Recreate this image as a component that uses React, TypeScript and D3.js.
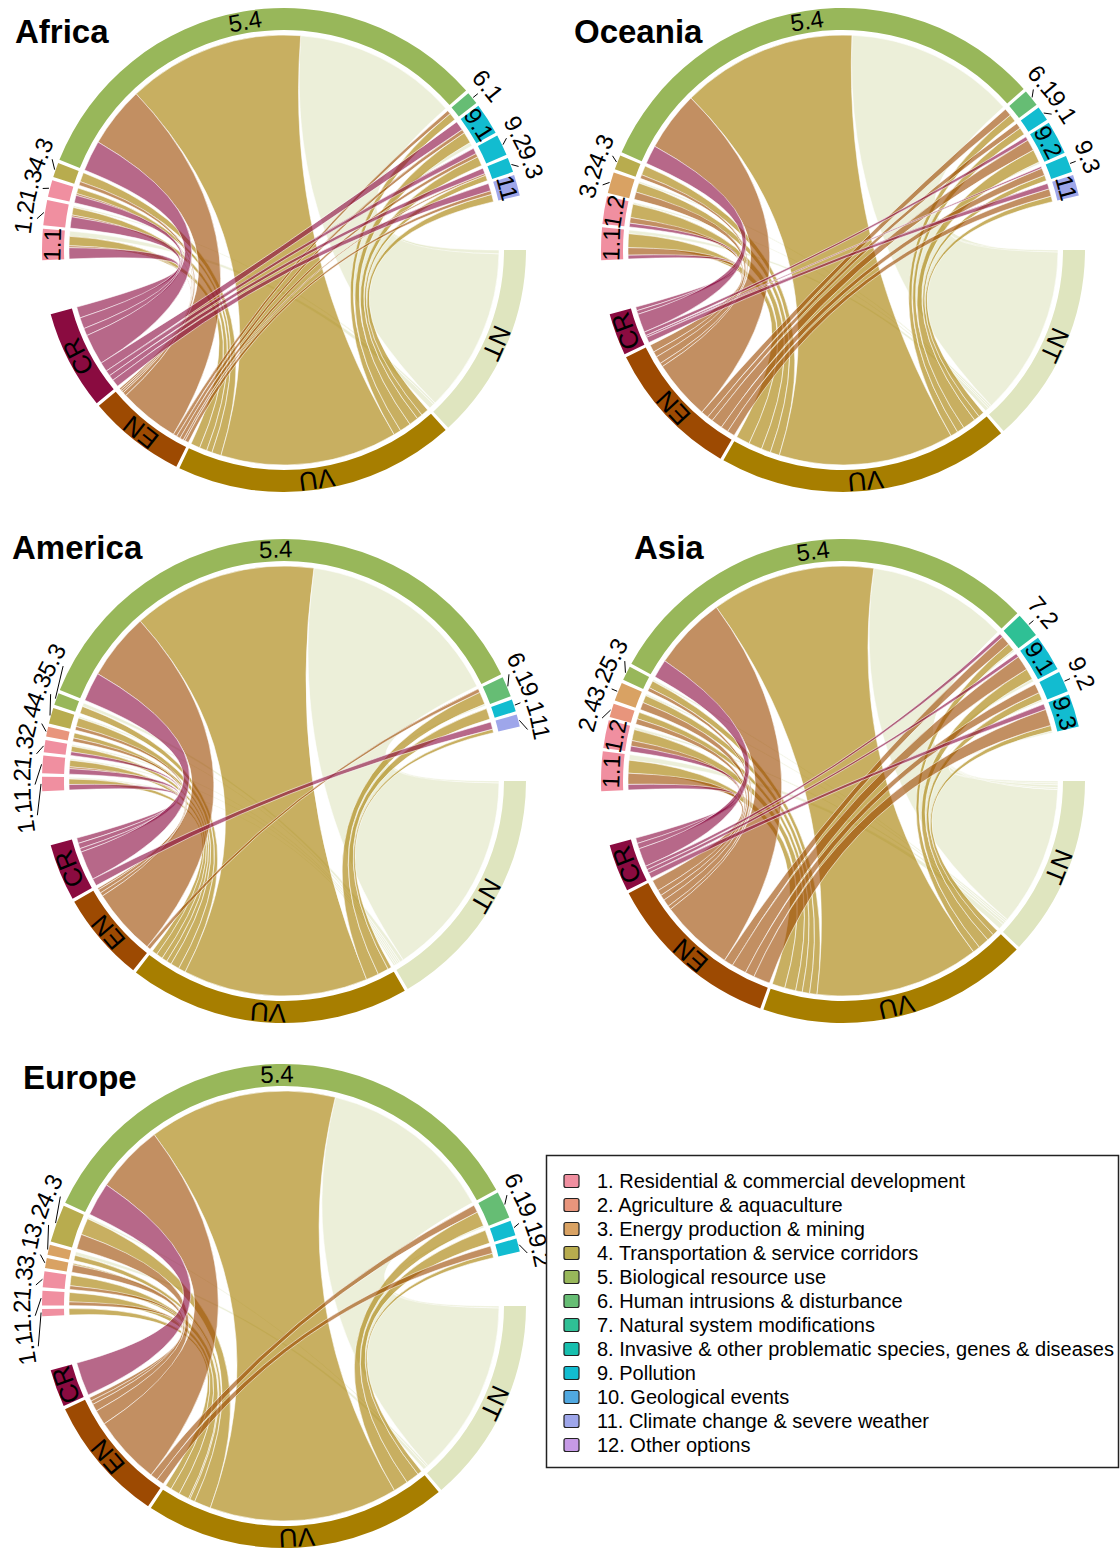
import * as d3 from 'd3'

const FONT = "'Liberation Sans', Arial, Helvetica, sans-serif"

// status sectors, clockwise from 3 o'clock
const statusOrder = ['NT', 'VU', 'EN', 'CR']
const statusFill: Record<string, string> = { CR: '#8a0b40', EN: '#9d4a02', VU: '#a77e00', NT: '#dfe5bf' }
// order of links inside a threat sector (clockwise)
const linkOrder = ['CR', 'EN', 'VU', 'NT']

const categoryFill = [
  '#f08fa0', '#e8957c', '#d9a263', '#b8ac4e', '#98b75a', '#66bd74',
  '#2fc095', '#17bfae', '#12bcd0', '#50a8e0', '#9ea6ea', '#c69ae6'
]

const legendLabels = [
  '1. Residential & commercial development',
  '2. Agriculture & aquaculture',
  '3. Energy production & mining',
  '4. Transportation & service corridors',
  '5. Biological resource use',
  '6. Human intrusions & disturbance',
  '7. Natural system modifications',
  '8. Invasive & other problematic species, genes & diseases',
  '9. Pollution',
  '10. Geological events',
  '11. Climate change & severe weather',
  '12. Other options'
]

// ---- Africa
const africaThreats = ['1.1', '1.2', '1.3', '4.3', '5.4', '6.1', '9.1', '9.2', '9.3', '11']
const africaCR = [3, 3, 2, 0, 8.2, 0, 2.5, 1.5, 1.5, 2]
const africaEN = [0.5, 0.5, 0.5, 1, 16.3, 1, 1, 1, 0.5, 1]
const africaVU = [2.5, 2, 1.5, 2.5, 47.5, 2, 3, 2.5, 1.5, 2]
const africaNT = [1.4, 0.5, 0, 0, 44, 0, 1, 0, 0, 0]
const africaInside = ['1.1', '5.4', '9.1', '11']

// ---- Oceania
const oceaniaThreats = ['1.1', '1.2', '3.2', '4.3', '5.4', '6.1', '9.1', '9.2', '9.3', '11']
const oceaniaCR = [1, 1, 0, 0, 5, 0, 0, 1, 0.5, 1.5]
const oceaniaEN = [2, 1.5, 2, 1, 16, 2, 1.5, 3, 2, 2]
const oceaniaVU = [3.7, 3.6, 2.5, 2.5, 47, 2, 2, 3.5, 1.5, 1.5]
const oceaniaNT = [1, 0.5, 0.5, 0, 45.5, 0, 0, 0.5, 0, 0]
const oceaniaInside = ['1.1', '1.2', '5.4', '9.2', '11']

// ---- America
const americaThreats = ['1.1', '1.2', '1.3', '2.4', '4.3', '5.3', '5.4', '6.1', '9.1', '11']
const americaCR = [1.5, 1.5, 1, 0, 0, 0, 8, 0, 0, 2]
const americaEN = [0, 0.5, 0, 1, 1, 0, 18.5, 1, 0, 0]
const americaVU = [1.5, 1.8, 1.5, 1.4, 2.4, 2, 51, 3.5, 3, 1]
const americaNT = [0.5, 0.5, 0.5, 0, 0.5, 1, 57, 0.5, 0, 0]
const americaInside = ['5.4']

// ---- Asia
const asiaThreats = ['1.1', '1.2', '2.4', '3.2', '5.3', '5.4', '7.2', '9.1', '9.2', '9.3']
const asiaCR = [1.5, 1.5, 0, 0, 0, 5, 1, 1, 0, 1.5]
const asiaEN = [3, 1.5, 1.5, 2, 1, 20, 2.5, 4, 2.5, 4.5]
const asiaVU = [3.5, 3, 1.8, 2, 2, 44.5, 2, 3, 2, 1.5]
const asiaNT = [1.5, 0.7, 0, 0.5, 0.5, 38, 0.5, 0.8, 0.5, 0.5]
const asiaInside = ['1.1', '1.2', '5.4', '9.1', '9.3']

// ---- Europe
const europeThreats = ['1.1', '1.2', '1.3', '3.1', '3.2', '4.3', '5.4', '6.1', '9.1', '9.2']
const europeCR = [0, 0, 0, 0, 0, 0, 9, 0, 0, 0]
const europeEN = [0, 1, 1, 2, 0, 4, 18.5, 2, 0, 2]
const europeVU = [1.7, 2.5, 2.8, 0.4, 1.4, 4.5, 50.8, 4, 3.6, 1.2]
const europeNT = [0, 0, 0, 0, 1, 0.5, 47.3, 0.5, 0, 0]
const europeInside = ['5.4']

interface PanelData {
  title: string
  cx: number
  cy: number
  tx: number
  ty: number
  threats: string[]
  values: Record<string, number[]>
  inside: string[]
}

const panels: PanelData[] = [
  { title: 'Africa', cx: 284, cy: 250, tx: 15, ty: 43, threats: africaThreats,
    values: { CR: africaCR, EN: africaEN, VU: africaVU, NT: africaNT }, inside: africaInside },
  { title: 'Oceania', cx: 843, cy: 250, tx: 574, ty: 43, threats: oceaniaThreats,
    values: { CR: oceaniaCR, EN: oceaniaEN, VU: oceaniaVU, NT: oceaniaNT }, inside: oceaniaInside },
  { title: 'America', cx: 284, cy: 781, tx: 12, ty: 559, threats: americaThreats,
    values: { CR: americaCR, EN: americaEN, VU: americaVU, NT: americaNT }, inside: americaInside },
  { title: 'Asia', cx: 843, cy: 781, tx: 634, ty: 559, threats: asiaThreats,
    values: { CR: asiaCR, EN: asiaEN, VU: asiaVU, NT: asiaNT }, inside: asiaInside },
  { title: 'Europe', cx: 284, cy: 1306, tx: 23, ty: 1089, threats: europeThreats,
    values: { CR: europeCR, EN: europeEN, VU: europeVU, NT: europeNT }, inside: europeInside }
]

const R_OUT = 242
const R_IN = 220
const R_LINK = 215
const R_LAB = 262
const SMALL_GAP = 0.8
const BIG_GAP = 13
const FS_STATUS = 26
const FS_THREAT = 24

const rad = (deg: number) => (deg * Math.PI) / 180
const polar = (r: number, deg: number): [number, number] => [r * Math.sin(rad(deg)), -r * Math.cos(rad(deg))]

const charW = (c: string) => (c === '.' ? 0.278 : 0.556)
const textW = (s: string, fs: number) => s.split('').reduce((a, c) => a + charW(c), 0) * fs

interface Sector { name: string; start: number; end: number; color: string; status: boolean }
interface Link { status: string; value: number; s0: number; s1: number; t0: number; t1: number }

function layout(p: PanelData) {
  const n = p.threats.length
  const tTot = p.threats.map((_, i) => d3.sum(linkOrder, s => p.values[s][i]))
  const sTot: Record<string, number> = {}
  statusOrder.forEach(s => { sTot[s] = d3.sum(p.values[s]) })
  const total = d3.sum(tTot)
  const gaps = (n + 4 - 2) * SMALL_GAP + 2 * BIG_GAP
  const k = (360 - gaps) / (2 * total)

  const sectors: Sector[] = []
  let a = 90
  statusOrder.forEach((s, j) => {
    const w = sTot[s] * k
    sectors.push({ name: s, start: a, end: a + w, color: statusFill[s], status: true })
    a += w + (j < 3 ? SMALL_GAP : BIG_GAP)
  })
  const tSec: Sector[] = []
  p.threats.forEach((t, i) => {
    const w = tTot[i] * k
    const cat = parseInt(t.split('.')[0], 10)
    const sec = { name: t, start: a, end: a + w, color: categoryFill[cat - 1], status: false }
    sectors.push(sec)
    tSec.push(sec)
    a += w + (i < n - 1 ? SMALL_GAP : BIG_GAP)
  })

  const links: Link[][] = p.threats.map(() => [])
  const byKey: Record<string, Link> = {}
  p.threats.forEach((_, i) => {
    let c = tSec[i].start
    linkOrder.forEach(s => {
      const v = p.values[s][i]
      if (v > 0) {
        const l = { status: s, value: v, s0: c, s1: c + v * k, t0: 0, t1: 0 }
        byKey[i + s] = l
        links[i].push(l)
        c += v * k
      }
    })
  })
  statusOrder.forEach(s => {
    const sec = sectors.find(d => d.name === s)!
    let c = sec.start
    for (let i = n - 1; i >= 0; i--) {
      const l = byKey[i + s]
      if (!l) continue
      l.t0 = c
      l.t1 = c + l.value * k
      c += l.value * k
    }
  })
  return { sectors, links: links.flat() }
}

const ribbon = d3.ribbon<any, any>().radius(R_LINK)
const arc = d3.arc<any>()

function Chord({ p }: { p: PanelData }) {
  const { sectors, links } = layout(p)
  const drawOrder = ['NT', 'VU', 'EN', 'CR']
  const sorted = drawOrder.flatMap(s => links.filter(l => l.status === s))

  // outside labels with a simple repel
  const outs = sectors
    .filter(s => !s.status && !p.inside.includes(s.name))
    .map(s => {
      const mid = (s.start + s.end) / 2
      return { name: s.name, mid, ang: mid, w: textW(s.name, FS_THREAT) }
    })
    .sort((x, y) => x.ang - y.ang)
  for (let it = 0; it < 300; it++) {
    for (let i = 1; i < outs.length; i++) {
      const minSep = (((outs[i - 1].w + outs[i].w) / 2) * 0.97 / R_LAB) * (180 / Math.PI)
      const d = outs[i].ang - outs[i - 1].ang
      if (d < minSep && d < 60) {
        const sh = (minSep - d) / 2
        outs[i - 1].ang -= sh
        outs[i].ang += sh
      }
    }
  }

  return (
    <g>
      <text x={p.tx} y={p.ty} fontFamily={FONT} fontWeight="bold" fontSize={33} fill="#000">{p.title}</text>
      <g transform={`translate(${p.cx},${p.cy})`}>
        {sorted.map((l, i) => (
          <path
            key={i}
            d={ribbon({
              source: { startAngle: rad(l.s0), endAngle: rad(l.s1) },
              target: { startAngle: rad(l.t0), endAngle: rad(l.t1) }
            }) as unknown as string}
            fill={statusFill[l.status]}
            fillOpacity={l.status === 'NT' ? 0.6 : 0.62}
            stroke="#fff"
            strokeWidth={0.7}
            strokeOpacity={0.8}
          />
        ))}
        {sectors.map(s => (
          <path
            key={s.name}
            d={arc({ innerRadius: R_IN, outerRadius: R_OUT, startAngle: rad(s.start), endAngle: rad(s.end) }) as string}
            fill={s.color}
          />
        ))}
        {sectors
          .filter(s => s.status || p.inside.includes(s.name))
          .map(s => {
            const mid = (s.start + s.end) / 2
            const [x, y] = polar((R_IN + R_OUT) / 2 + 1, mid)
            return (
              <text
                key={'l' + s.name}
                transform={`translate(${x},${y}) rotate(${mid})`}
                textAnchor="middle"
                dominantBaseline="central"
                fontFamily={FONT}
                fontSize={s.status ? FS_STATUS : FS_THREAT}
                fill="#000"
              >
                {s.name}
              </text>
            )
          })}
        {outs.map(o => {
          const [x1, y1] = polar(R_OUT + 1, o.mid)
          const [x2, y2] = polar(R_OUT + 7, o.ang)
          const [x, y] = polar(R_LAB, o.ang)
          return (
            <g key={'o' + o.name}>
              <line x1={x1} y1={y1} x2={x2} y2={y2} stroke="#000" strokeWidth={1} />
              <text
                transform={`translate(${x},${y}) rotate(${o.ang})`}
                textAnchor="middle"
                dominantBaseline="central"
                fontFamily={FONT}
                fontSize={FS_THREAT}
                fill="#000"
              >
                {o.name}
              </text>
            </g>
          )
        })}
      </g>
    </g>
  )
}

function Legend() {
  const y = d3.scaleLinear().domain([0, legendLabels.length - 1]).range([1181, 1445])
  return (
    <g>
      <rect x={546.5} y={1155.5} width={572} height={312} fill="#fff" stroke="#222" strokeWidth={1.5} />
      {legendLabels.map((lab, i) => (
        <g key={lab}>
          <rect x={564} y={y(i) - 6.5} width={15} height={13} rx={2} fill={categoryFill[i]} stroke="#222" strokeWidth={1.2} />
          <text x={597} y={y(i) + 7} fontFamily={FONT} fontSize={20} fill="#000">{lab}</text>
        </g>
      ))}
    </g>
  )
}

export default function App() {
  return (
    <svg
      width={1120}
      height={1553}
      viewBox="0 0 1120 1553"
      style={{ position: 'absolute', left: 0, top: 0, background: '#fff' }}
    >
      {panels.map(p => <Chord key={p.title} p={p} />)}
      <Legend />
    </svg>
  )
}
